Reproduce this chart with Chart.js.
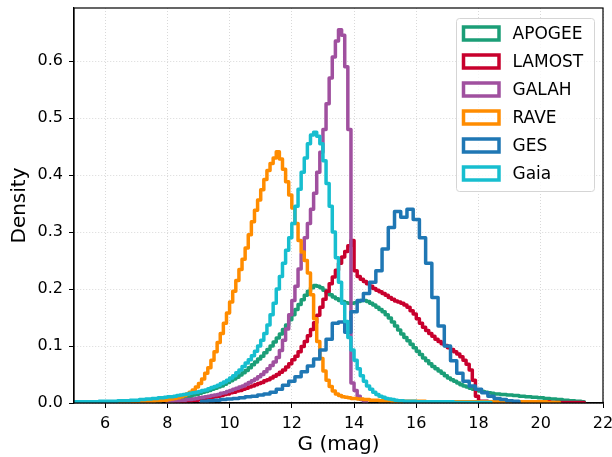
<!DOCTYPE html>
<html>
<head>
<meta charset="utf-8">
<script src="https://cdn.jsdelivr.net/npm/chart.js@4.4.1/dist/chart.umd.min.js"></script>
<style>
  html, body { margin: 0; padding: 0; background: #fff; }
  #wrap { width: 612px; height: 457px; }
</style>
</head>
<body>
<div id="wrap"><canvas id="magChart" width="612" height="457"></canvas></div>
<script>
const SURVEYS = ["APOGEE", "LAMOST", "GALAH", "RAVE", "GES", "Gaia"];
const SURVEY_COLORS = ["#1b9e77", "#c8002d", "#a0509f", "#ff8c00", "#1f77b4", "#17becf"];

const X_TICKS = [6, 8, 10, 12, 14, 16, 18, 20, 22];
const Y_TICKS = [0.0, 0.1, 0.2, 0.3, 0.4, 0.5, 0.6];

// first bin edge (mag) and bin width (mag) for each survey, same order as SURVEYS
const BIN_START = [5.0, 8.0, 8.0, 6.0, 9.1, 5.0];
const BIN_WIDTH = [0.1, 0.1, 0.1, 0.1, 0.2, 0.1];

// normalised counts per bin
const apogeeDensity = [
  0.001, 0.001, 0.001, 0.001, 0.001, 0.001, 0.001, 0.001, 0.001, 0.001,
  0.001, 0.001, 0.001, 0.001, 0.002, 0.002, 0.002, 0.002, 0.002, 0.002,
  0.002, 0.002, 0.003, 0.003, 0.003, 0.003, 0.004, 0.004, 0.005, 0.005,
  0.006, 0.006, 0.007, 0.008, 0.009, 0.010, 0.011, 0.012, 0.014, 0.015,
  0.017, 0.019, 0.020, 0.022, 0.024, 0.026, 0.028, 0.030, 0.033, 0.036,
  0.039, 0.042, 0.045, 0.049, 0.053, 0.057, 0.062, 0.067, 0.072, 0.077,
  0.082, 0.088, 0.094, 0.100, 0.107, 0.114, 0.121, 0.129, 0.137, 0.146,
  0.155, 0.164, 0.173, 0.181, 0.189, 0.196, 0.202, 0.206, 0.205, 0.202,
  0.198, 0.194, 0.190, 0.186, 0.183, 0.180, 0.178, 0.176, 0.175, 0.175,
  0.176, 0.178, 0.180, 0.180, 0.178, 0.175, 0.172, 0.168, 0.164, 0.160,
  0.155, 0.149, 0.142, 0.135, 0.128, 0.121, 0.115, 0.109, 0.103, 0.097,
  0.091, 0.085, 0.079, 0.074, 0.069, 0.064, 0.060, 0.056, 0.052, 0.048,
  0.044, 0.041, 0.038, 0.035, 0.032, 0.030, 0.028, 0.026, 0.024, 0.022,
  0.021, 0.020, 0.019, 0.018, 0.017, 0.016, 0.016, 0.015, 0.015, 0.014,
  0.014, 0.013, 0.013, 0.012, 0.012, 0.011, 0.011, 0.010, 0.010, 0.009,
  0.009, 0.008, 0.008, 0.007, 0.007, 0.006, 0.006, 0.005, 0.005, 0.004,
  0.004, 0.003, 0.003, 0.002,
];
const lamostDensity = [
  0.002, 0.002, 0.002, 0.003, 0.003, 0.003, 0.004, 0.004, 0.005, 0.005,
  0.006, 0.007, 0.008, 0.009, 0.010, 0.011, 0.012, 0.013, 0.015, 0.016,
  0.018, 0.019, 0.021, 0.022, 0.024, 0.026, 0.028, 0.030, 0.032, 0.034,
  0.036, 0.039, 0.041, 0.044, 0.047, 0.050, 0.054, 0.058, 0.063, 0.069,
  0.076, 0.082, 0.090, 0.099, 0.108, 0.118, 0.129, 0.141, 0.154, 0.168,
  0.182, 0.196, 0.209, 0.221, 0.233, 0.245, 0.256, 0.266, 0.276, 0.285,
  0.232, 0.222, 0.217, 0.213, 0.209, 0.205, 0.201, 0.198, 0.195, 0.192,
  0.189, 0.185, 0.182, 0.179, 0.177, 0.175, 0.172, 0.168, 0.162, 0.156,
  0.148, 0.140, 0.133, 0.127, 0.122, 0.117, 0.112, 0.108, 0.104, 0.101,
  0.097, 0.094, 0.090, 0.086, 0.081, 0.075, 0.068, 0.058, 0.040, 0.012,
  0.003, 0.003, 0.003, 0.002, 0.002, 0.002, 0.002, 0.002, 0.002, 0.002,
  0.002, 0.002, 0.002, 0.002, 0.002, 0.002, 0.002, 0.002, 0.002, 0.002,
  0.002, 0.002, 0.002, 0.001, 0.001, 0.001, 0.001, 0.001, 0.001, 0.001,
  0.001, 0.001, 0.001, 0.001,
];
const galahDensity = [
  0.003, 0.003, 0.004, 0.004, 0.005, 0.005, 0.006, 0.006, 0.007, 0.008,
  0.009, 0.010, 0.011, 0.012, 0.013, 0.014, 0.015, 0.017, 0.018, 0.020,
  0.022, 0.024, 0.026, 0.028, 0.030, 0.033, 0.036, 0.039, 0.042, 0.046,
  0.050, 0.055, 0.060, 0.066, 0.072, 0.080, 0.092, 0.110, 0.130, 0.155,
  0.180, 0.205, 0.235, 0.262, 0.290, 0.315, 0.340, 0.368, 0.405, 0.440,
  0.480, 0.525, 0.570, 0.607, 0.635, 0.655, 0.645, 0.590, 0.480, 0.035,
  0.022, 0.012, 0.006, 0.003,
];
const raveDensity = [
  0.001, 0.001, 0.001, 0.001, 0.001, 0.001, 0.002, 0.002, 0.002, 0.002,
  0.002, 0.002, 0.003, 0.003, 0.003, 0.003, 0.004, 0.004, 0.005, 0.005,
  0.006, 0.007, 0.008, 0.009, 0.011, 0.013, 0.016, 0.019, 0.023, 0.028,
  0.034, 0.042, 0.052, 0.062, 0.075, 0.090, 0.106, 0.122, 0.140, 0.158,
  0.177, 0.196, 0.215, 0.234, 0.252, 0.272, 0.295, 0.318, 0.338, 0.356,
  0.374, 0.392, 0.408, 0.420, 0.430, 0.441, 0.428, 0.410, 0.388, 0.365,
  0.342, 0.315, 0.285, 0.265, 0.250, 0.228, 0.190, 0.148, 0.108, 0.078,
  0.056, 0.040, 0.029, 0.021, 0.016, 0.013, 0.011, 0.010, 0.009, 0.008,
  0.008, 0.007, 0.007, 0.006, 0.006, 0.005, 0.005, 0.005, 0.004, 0.004,
  0.004, 0.004, 0.003, 0.003, 0.003, 0.003, 0.003, 0.003, 0.003, 0.003,
  0.003, 0.003, 0.003, 0.002, 0.002, 0.002, 0.002, 0.002, 0.002, 0.002,
  0.002, 0.002, 0.002, 0.002, 0.002, 0.002, 0.002, 0.002, 0.002, 0.002,
  0.002, 0.002, 0.002, 0.002, 0.002, 0.002, 0.002, 0.002, 0.002, 0.002,
  0.002, 0.002, 0.002, 0.002, 0.002, 0.002, 0.002, 0.002, 0.002, 0.002,
  0.002, 0.002, 0.001, 0.001, 0.001, 0.001,
];
const gesDensity = [
  0.003, 0.004, 0.005, 0.006, 0.007,
  0.008, 0.009, 0.011, 0.012, 0.014,
  0.016, 0.019, 0.024, 0.031, 0.038,
  0.046, 0.055, 0.065, 0.077, 0.093,
  0.112, 0.140, 0.142, 0.124, 0.160,
  0.180, 0.192, 0.212, 0.232, 0.270,
  0.308, 0.336, 0.326, 0.340, 0.322,
  0.290, 0.245, 0.185, 0.135, 0.100,
  0.074, 0.052, 0.038, 0.030, 0.024,
  0.018, 0.012, 0.008, 0.006, 0.004,
  0.003,
];
const gaiaDensity = [
  0.002, 0.002, 0.002, 0.002, 0.002, 0.002, 0.002, 0.002, 0.003, 0.003,
  0.003, 0.003, 0.003, 0.003, 0.004, 0.004, 0.004, 0.004, 0.005, 0.005,
  0.005, 0.006, 0.006, 0.007, 0.007, 0.008, 0.008, 0.009, 0.009, 0.010,
  0.011, 0.011, 0.012, 0.013, 0.014, 0.015, 0.016, 0.017, 0.018, 0.019,
  0.020, 0.022, 0.023, 0.025, 0.027, 0.029, 0.031, 0.034, 0.037, 0.040,
  0.044, 0.048, 0.053, 0.058, 0.064, 0.070, 0.076, 0.083, 0.091, 0.100,
  0.110, 0.122, 0.137, 0.155, 0.175, 0.200, 0.222, 0.245, 0.268, 0.290,
  0.315, 0.345, 0.375, 0.405, 0.430, 0.455, 0.470, 0.475, 0.468, 0.455,
  0.425, 0.385, 0.345, 0.300, 0.255, 0.212, 0.175, 0.143, 0.115, 0.093,
  0.075, 0.060, 0.048, 0.038, 0.030, 0.024, 0.019, 0.015, 0.012, 0.010,
  0.008, 0.007, 0.006, 0.005, 0.004, 0.004, 0.003, 0.003, 0.003, 0.003,
  0.002, 0.002, 0.002, 0.002, 0.002, 0.002, 0.002, 0.002, 0.002, 0.002,
  0.002, 0.002, 0.001, 0.001, 0.001, 0.001, 0.001, 0.001, 0.001, 0.001,
  0.001, 0.001, 0.001, 0.001,
];

const DENSITIES = [apogeeDensity, lamostDensity, galahDensity, raveDensity, gesDensity, gaiaDensity];

const FONT = "'DejaVu Sans', 'Liberation Sans', sans-serif";

// histtype="step": drop to zero at both ends, flat top across each bin
function stepPoints(start, width, values) {
  const pts = [{ x: start, y: 0 }];
  values.forEach((v, i) => pts.push({ x: start + i * width, y: v }));
  const end = start + values.length * width;
  pts.push({ x: end, y: values[values.length - 1] });
  pts.push({ x: end, y: 0 });
  return pts;
}

const datasets = SURVEYS.map((name, i) => ({
  label: name,
  data: stepPoints(BIN_START[i], BIN_WIDTH[i], DENSITIES[i]),
  borderColor: SURVEY_COLORS[i],
  backgroundColor: SURVEY_COLORS[i],
  borderWidth: 3.5,
  borderJoinStyle: "round",
  stepped: "before",
  pointRadius: 0,
  fill: false,
  clip: 0,
  order: SURVEYS.length - i,
}));

// axes box on all four sides plus a matplotlib-like legend in the upper right
const frameAndLegend = {
  id: "frameAndLegend",
  afterDraw(chart) {
    const { ctx, chartArea: a } = chart;
    ctx.save();
    ctx.strokeStyle = "#000";
    ctx.lineWidth = 1.2;
    ctx.strokeRect(a.left, a.top, a.right - a.left, a.bottom - a.top);

    const box = { x: 456.5, y: 18.5, w: 138, h: 173 };
    ctx.beginPath();
    ctx.roundRect(box.x, box.y, box.w, box.h, 3);
    ctx.fillStyle = "rgba(255,255,255,0.8)";
    ctx.fill();
    ctx.strokeStyle = "#d5d5d5";
    ctx.lineWidth = 1;
    ctx.stroke();

    ctx.font = "17px " + FONT;
    ctx.textBaseline = "middle";
    ctx.textAlign = "left";
    SURVEYS.forEach((name, i) => {
      const cy = 33.5 + i * 28;
      ctx.strokeStyle = SURVEY_COLORS[i];
      ctx.lineWidth = 3.5;
      ctx.strokeRect(463.5, cy - 6.5, 35.5, 13);
      ctx.fillStyle = "#000";
      ctx.fillText(name, 512.5, cy + 1);
    });
    ctx.restore();
  },
};

const gridStyle = {
  color: "#cfcfcf",
  lineWidth: 0.8,
  drawTicks: true,
  tickLength: 5,
  tickColor: "#000",
  tickWidth: 1,
};

new Chart(document.getElementById("magChart"), {
  type: "line",
  data: { datasets },
  plugins: [frameAndLegend],
  options: {
    responsive: false,
    animation: false,
    devicePixelRatio: 1,
    layout: { padding: { top: 8, right: 9, bottom: 0, left: 0 } },
    plugins: {
      legend: { display: false },
      tooltip: { enabled: false },
    },
    scales: {
      x: {
        type: "linear",
        min: 5,
        max: 22,
        afterBuildTicks: (scale) => {
          scale.ticks = X_TICKS.map((v) => ({ value: v }));
        },
        afterFit: (scale) => {
          scale.height = 54;
          scale.paddingLeft = 0;
          scale.paddingRight = 0;
        },
        ticks: {
          color: "#000",
          font: { family: FONT, size: 16 },
          padding: 6,
          maxRotation: 0,
          callback: (v) => String(v),
        },
        grid: gridStyle,
        border: { display: true, color: "#000", width: 1.2, dash: [1, 2] },
        title: {
          display: true,
          text: "G (mag)",
          color: "#000",
          font: { family: FONT, size: 20 },
          padding: { top: 0, bottom: 0 },
        },
      },
      y: {
        type: "linear",
        min: 0,
        max: 0.693,
        afterBuildTicks: (scale) => {
          scale.ticks = Y_TICKS.map((v) => ({ value: v }));
        },
        afterFit: (scale) => {
          scale.width = 74;
          scale.paddingTop = 0;
          scale.paddingBottom = 0;
        },
        ticks: {
          color: "#000",
          font: { family: FONT, size: 16 },
          padding: 6,
          callback: (v) => Number(v).toFixed(1),
        },
        grid: gridStyle,
        border: { display: true, color: "#000", width: 1.2, dash: [1, 2] },
        title: {
          display: true,
          text: "Density",
          color: "#000",
          font: { family: FONT, size: 20 },
          padding: { top: 8, bottom: 0 },
        },
      },
    },
  },
});
</script>
</body>
</html>
